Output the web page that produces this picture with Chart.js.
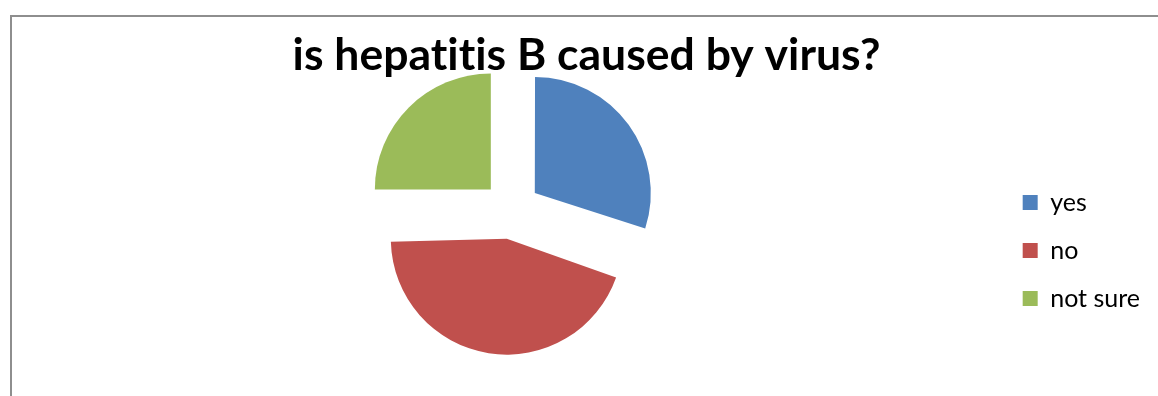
<!DOCTYPE html>
<html>
<head>
<meta charset="utf-8">
<script src="https://cdn.jsdelivr.net/npm/chart.js@4/dist/chart.umd.min.js"></script>
<style>
    html, body { margin: 0; padding: 0; background: #fff; }
    body { width: 1158px; height: 396px; position: relative; overflow: hidden; }
    #frame { position: absolute; left: 10px; top: 15px; width: 1200px; height: 500px; border: 2px solid #8e8e8e; }
    #wrap { position: absolute; left: 0; top: 0; width: 1158px; height: 396px; }
</style>
</head>
<body>
<div id="frame"></div>
<div id="wrap"><canvas id="pieChart"></canvas></div>
<script>
// Données du graphique
const categories = ['yes', 'no', 'not sure'];
const reponses = [30, 45, 25];
const couleurs = ['#4F81BD', '#C0504D', '#9BBB59'];
const titre = 'is hepatitis B caused by virus?';

// Chart.js agrandit les parts éclatées de plus de 90° : on annule cet agrandissement
const corrigeRayon = {
    id: 'corrigeRayon',
    afterDatasetsUpdate(chart) {
        chart.getDatasetMeta(0).data.forEach(arc => {
            const offset = (arc.options.offset || 0) / 4;
            const fix = 1 - Math.sin(Math.min(Math.PI, arc.circumference));
            arc.outerRadius -= offset * fix;
        });
    },
    beforeDraw(chart) {
        // pas de ligature "ti" dans le titre
        chart.ctx.letterSpacing = '0.01px';
    }
};

document.addEventListener('DOMContentLoaded', function() {
    const ctx = document.getElementById('pieChart').getContext('2d');
    const pieChart = new Chart(ctx, {
        type: 'pie',
        data: {
            labels: categories,
            datasets: [{
                data: reponses,
                backgroundColor: couleurs,
                borderWidth: 0,
                offset: 116,   // part éclatée
                radius: 116
            }]
        },
        options: {
            responsive: true,
            maintainAspectRatio: false,
            animation: false,
            layout: {
                padding: { left: 23, right: 8, top: 28.6, bottom: 62 }
            },
            plugins: {
                title: {
                    display: true,
                    text: titre,
                    color: '#000',
                    font: { family: 'Lato', size: 44.5, weight: 'bold', lineHeight: 1.2 },
                    padding: { top: 0, bottom: 4 }
                },
                legend: {
                    position: 'right',
                    align: 'end',
                    fullSize: false,
                    labels: {
                        color: '#000',
                        font: { family: 'Lato', size: 25 },
                        boxWidth: 15,
                        boxHeight: 15,
                        padding: 23
                    }
                },
                tooltip: { enabled: false }
            }
        },
        plugins: [corrigeRayon]
    });
});
</script>
</body>
</html>
